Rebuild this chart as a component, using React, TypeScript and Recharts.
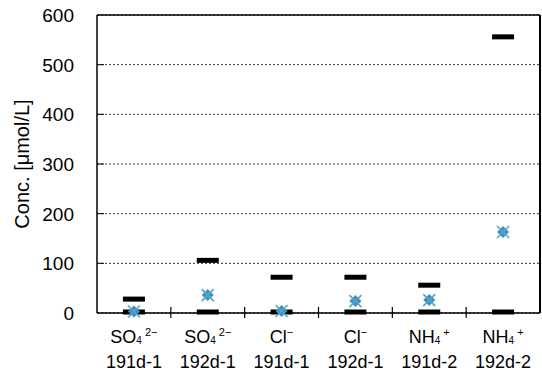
import React from 'react';
import { ComposedChart, Scatter, XAxis, YAxis, CartesianGrid, ReferenceLine } from 'recharts';

const ions = ['SO4', 'SO4', 'Cl', 'Cl', 'NH4', 'NH4'];
const samples = ['191d-1', '192d-1', '191d-1', '192d-1', '191d-2', '192d-2'];
const maxVals = [28, 106, 72, 72, 56, 556];
const minVals = [2, 2, 2, 2, 2, 2];
const meanVals = [3, 36, 4, 24, 26, 163];
const yTicks = [0, 100, 200, 300, 400, 500, 600];
const xTicks = [0, 0.5, 1, 1.5, 2, 2.5, 3, 3.5, 4, 4.5, 5, 5.5, 6];

const data = samples.map((s, i) => ({
  x: i + 0.5,
  max: maxVals[i],
  min: minVals[i],
  mean: meanVals[i],
}));

const FONT = '"Liberation Sans", Arial, sans-serif';

const Dash = (props: any) => {
  const { cx, cy } = props;
  if (cx == null || cy == null) return null;
  return <rect x={cx - 11} y={cy - 2.5} width={22} height={5} fill="#000" />;
};

const MeanMark = (props: any) => {
  const { cx, cy } = props;
  if (cx == null || cy == null) return null;
  const r = 6;
  return (
    <g>
      <path d={`M${cx},${cy - r} L${cx + r},${cy} L${cx},${cy + r} L${cx - r},${cy} Z`} fill="#4a8ac4" />
      <line x1={cx - 6} y1={cy - 6} x2={cx + 6} y2={cy + 6} stroke="#4bacc6" strokeWidth={1.6} />
      <line x1={cx - 6} y1={cy + 6} x2={cx + 6} y2={cy - 6} stroke="#4bacc6" strokeWidth={1.6} />
    </g>
  );
};

const IonLabel = ({ ion }: { ion: string }) => {
  if (ion === 'SO4') {
    return (
      <>
        <tspan>SO</tspan>
        <tspan fontSize={10} dy={1}>4</tspan>
        <tspan fontSize={11} dy={-8}> 2−</tspan>
      </>
    );
  }
  if (ion === 'Cl') {
    return (
      <>
        <tspan>Cl</tspan>
        <tspan fontSize={11} dy={-7}>−</tspan>
      </>
    );
  }
  return (
    <>
      <tspan>NH</tspan>
      <tspan fontSize={10} dy={1}>4</tspan>
      <tspan fontSize={11} dy={-8}> +</tspan>
    </>
  );
};

const XTick = (props: any) => {
  const { x, y, payload } = props;
  const v = payload.value as number;
  if (Math.abs(v - Math.round(v)) < 1e-6) {
    if (v === 0 || v === 6) return null;
    return <line x1={x} x2={x} y1={y - 6} y2={y + 5} stroke="#000" strokeWidth={1.2} />;
  }
  const i = Math.round(v - 0.5);
  return (
    <g>
      <text x={x} y={y + 30} textAnchor="middle" fontSize={18} fontFamily={FONT} fill="#000">
        <IonLabel ion={ions[i]} />
      </text>
      <text x={x} y={y + 55} textAnchor="middle" fontSize={18} fontFamily={FONT} fill="#000">
        {samples[i]}
      </text>
    </g>
  );
};

const YTick = (props: any) => {
  const { x, y, payload } = props;
  const v = payload.value as number;
  return (
    <g>
      <text x={x} y={y} dy="0.36em" textAnchor="end" fontSize={19} fontFamily={FONT} fill="#000">
        {v}
      </text>
      {v !== 0 && v !== 600 && (
        <line x1={x + 23} x2={x + 30} y1={y} y2={y} stroke="#000" strokeWidth={1} />
      )}
    </g>
  );
};

export default function App() {
  return (
    <div style={{ position: 'fixed', left: 0, top: 0, background: '#fff' }}>
      <ComposedChart
        width={542}
        height={374}
        data={data}
        margin={{ top: 15, right: 2, left: 0, bottom: 0 }}
      >
        <CartesianGrid horizontal vertical={false} stroke="#000" strokeDasharray="2 2" strokeWidth={0.8} />
        <XAxis
          type="number"
          dataKey="x"
          domain={[0, 6]}
          ticks={xTicks}
          interval={0}
          tickLine={false}
          tickSize={0}
          tickMargin={0}
          axisLine={{ stroke: '#000', strokeWidth: 1.5 }}
          tick={<XTick />}
          height={61}
        />
        <YAxis
          type="number"
          domain={[0, 600]}
          ticks={yTicks}
          interval={0}
          tickLine={false}
          tickSize={0}
          tickMargin={23}
          axisLine={{ stroke: '#000', strokeWidth: 1.5 }}
          tick={<YTick />}
          width={97}
          label={{
            value: 'Conc. [μmol/L]',
            angle: -90,
            position: 'insideLeft',
            dx: 17,
            style: { textAnchor: 'middle', fontSize: 20, fontFamily: FONT, fill: '#000' },
          }}
        />
        <ReferenceLine y={600} stroke="#000" strokeWidth={1.5} />
        <ReferenceLine x={6} stroke="#000" strokeWidth={2} />
        <Scatter dataKey="max" shape={<Dash />} isAnimationActive={false} />
        <Scatter dataKey="min" shape={<Dash />} isAnimationActive={false} />
        <Scatter dataKey="mean" shape={<MeanMark />} isAnimationActive={false} />
      </ComposedChart>
    </div>
  );
}
